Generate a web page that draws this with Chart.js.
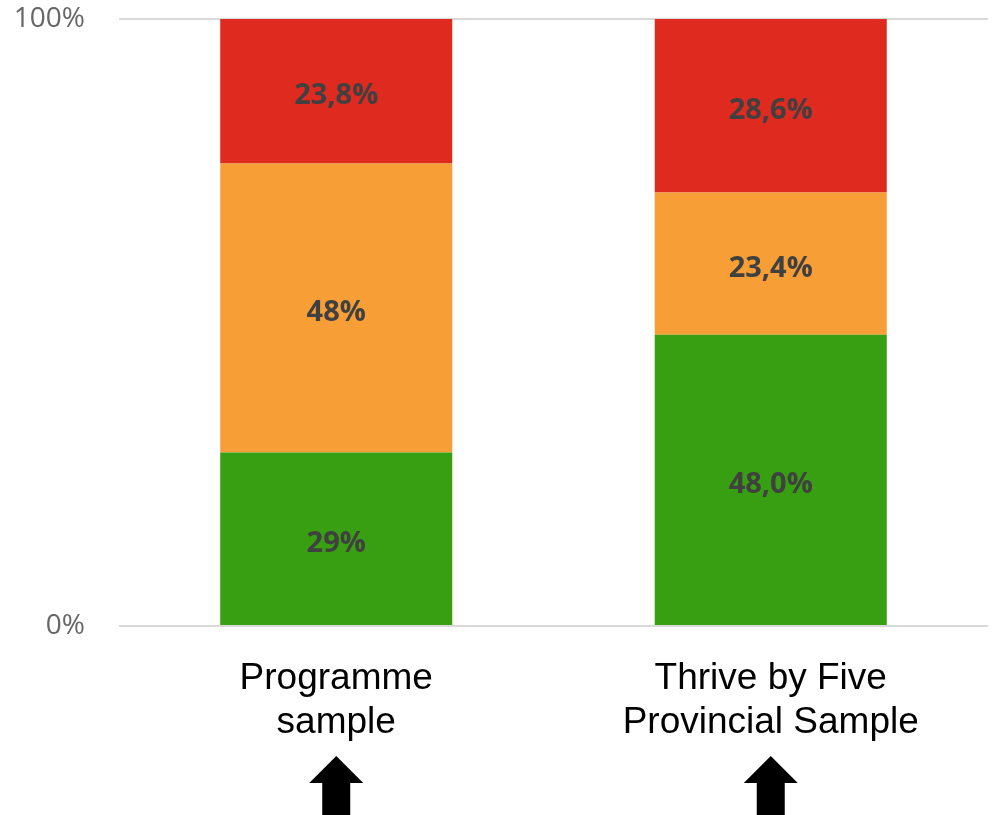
<!DOCTYPE html>
<html>
<head>
<meta charset="utf-8">
<script src="https://cdn.jsdelivr.net/npm/chart.js@4"></script>
<style>
  html, body { margin: 0; padding: 0; background: #fff; }
  #wrap { width: 994px; height: 815px; position: relative; }
</style>
</head>
<body>
<div id="wrap"><canvas id="stackChart"></canvas></div>
<script>
// categories + series (percent of each sample)
const categories   = [['Programme', 'sample'], ['Thrive by Five', 'Provincial Sample']];
const greenValues  = [28.6, 48.0];
const orangeValues = [47.6, 23.4];
const redValues    = [23.8, 28.6];

// labels as printed on the bars
const greenLabels  = ['29%', '48,0%'];
const orangeLabels = ['48%', '23,4%'];
const redLabels    = ['23,8%', '28,6%'];

const yTicks = [0, 100];

const green  = '#389E12';
const orange = '#F79E36';
const red    = '#DF2A20';

// ── segment labels drawn in the middle of each piece ──
const segmentLabels = {
    id: 'segmentLabels',
    afterDatasetsDraw(chart) {
        const ctx = chart.ctx;
        ctx.save();
        ctx.font = "bold 29px 'Open Sans', sans-serif";
        ctx.fillStyle = '#404040';
        ctx.textAlign = 'center';
        ctx.textBaseline = 'middle';
        chart.data.datasets.forEach((ds, di) => {
            chart.getDatasetMeta(di).data.forEach((bar, i) => {
                const y = (bar.y + bar.base) / 2 + 5;
                ctx.fillText(ds.segLabels[i], bar.x, y);
            });
        });
        ctx.restore();
    }
};

// ── black up arrows under each category ──
const upArrows = {
    id: 'upArrows',
    afterDraw(chart) {
        const ctx = chart.ctx;
        const xs = chart.scales.x;
        const bottom = chart.height;
        ctx.save();
        ctx.fillStyle = '#000';
        categories.forEach((c, i) => {
            const x = xs.getPixelForValue(i);
            ctx.beginPath();
            ctx.moveTo(x, 756);
            ctx.lineTo(x + 27, 783);
            ctx.lineTo(x + 14, 783);
            ctx.lineTo(x + 14, bottom);
            ctx.lineTo(x - 14, bottom);
            ctx.lineTo(x - 14, 783);
            ctx.lineTo(x - 27, 783);
            ctx.closePath();
            ctx.fill();
        });
        ctx.restore();
    }
};

new Chart(document.getElementById('stackChart'), {
    type: 'bar',
    data: {
        labels: categories,
        datasets: [
            { label: 'Green',  data: greenValues,  backgroundColor: green,  segLabels: greenLabels },
            { label: 'Orange', data: orangeValues, backgroundColor: orange, segLabels: orangeLabels },
            { label: 'Red',    data: redValues,    backgroundColor: red,    segLabels: redLabels },
        ]
    },
    options: {
        responsive: true,
        maintainAspectRatio: false,
        animation: false,
        barPercentage: 0.534,
        categoryPercentage: 1,
        layout: { padding: { left: 0, right: 6, top: 2, bottom: 68 } },
        plugins: {
            legend: { display: false },
            tooltip: { enabled: false }
        },
        scales: {
            x: {
                stacked: true,
                grid: { display: false, drawTicks: false },
                border: { display: false },
                afterFit: axis => { axis.height = 121; },
                ticks: {
                    color: '#000',
                    padding: 31,
                    maxRotation: 0,
                    font: { family: "'Liberation Sans', Arial, sans-serif", size: 37, lineHeight: 1.19 }
                }
            },
            y: {
                stacked: true,
                min: 0,
                max: 100,
                afterBuildTicks: axis => { axis.ticks = yTicks.map(v => ({ value: v })); },
                afterFit: axis => {
                    axis.width = 119;
                    axis.paddingTop = 19;
                    axis.paddingBottom = 17;
                },
                grid: { color: '#d9d9d9', lineWidth: 2, drawTicks: false },
                border: { display: false },
                ticks: {
                    color: '#666',
                    padding: 34,
                    font: { family: "'Open Sans', sans-serif", size: 28 },
                    callback: v => v + '%'
                }
            }
        }
    },
    plugins: [segmentLabels, upArrows]
});
</script>
</body>
</html>
